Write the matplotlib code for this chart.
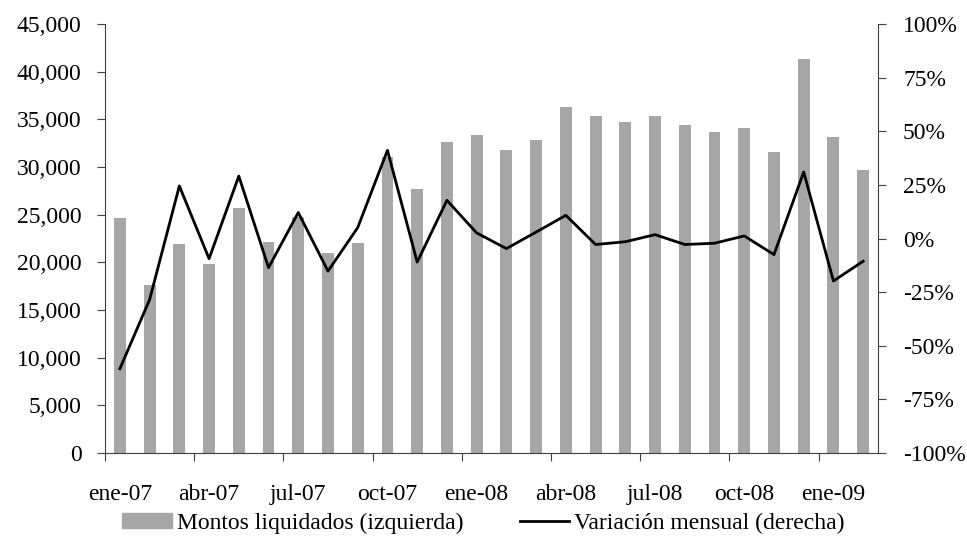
import matplotlib.pyplot as plt
from matplotlib.lines import Line2D
import matplotlib.patches as mpatches

plt.rcParams['font.family'] = ['Liberation Serif', 'DejaVu Serif']

# monthly data, ene-07 .. feb-09
meses = ['ene-07', 'feb-07', 'mar-07', 'abr-07', 'may-07', 'jun-07', 'jul-07', 'ago-07',
         'sep-07', 'oct-07', 'nov-07', 'dic-07', 'ene-08', 'feb-08', 'mar-08', 'abr-08',
         'may-08', 'jun-08', 'jul-08', 'ago-08', 'sep-08', 'oct-08', 'nov-08', 'dic-08',
         'ene-09', 'feb-09']
montos = [24700, 17600, 21900, 19850, 25650, 22100, 24750, 21000, 22000, 31100,
          27650, 32600, 33350, 31800, 32800, 36300, 35300, 34700, 35400, 34400,
          33650, 34100, 31550, 41350, 33100, 29650]
variacion = [-60.7, -28.5, 24.5, -9.4, 29.1, -13.6, 12.1, -15.2, 5.1, 41.1,
             -11.0, 17.8, 2.6, -4.7, 3.0, 10.8, -2.8, -1.5, 1.8, -2.8,
             -2.2, 1.2, -7.5, 31.0, -19.8, -10.6]
left_ticks = [0, 5000, 10000, 15000, 20000, 25000, 30000, 35000, 40000, 45000]
right_ticks = [-100, -75, -50, -25, 0, 25, 50, 75, 100]

fs = 17
fig = plt.figure(figsize=(9.67, 5.37), dpi=100)
ax = fig.add_axes([0.1086, 0.1564, 0.7994, 0.7989])
x = list(range(len(meses)))
ax.bar(x, montos, width=0.4, color='#a6a6a6')
ax.set_xlim(-0.5, len(meses) - 0.5)
ax.set_ylim(0, 45000)
ax.set_yticks(left_ticks)
ax.set_yticklabels(['{:,}'.format(v) for v in left_ticks])

# group ticks every 3 months, labels on the first month of each group
ax.set_xticks([i - 0.5 for i in range(0, len(meses) + 1, 3)])
ax.set_xticklabels([])
ax.set_xticks(x[::3], minor=True)
ax.set_xticklabels(meses[::3], minor=True)
ax.tick_params(axis='x', which='minor', length=0, pad=22, labelsize=fs)
ax.tick_params(axis='x', which='major', length=6, color='#404040')
ax.tick_params(axis='y', length=6, pad=11, labelsize=fs, color='#404040')
ax.spines['top'].set_visible(False)
ax.spines['right'].set_visible(False)
ax.spines['left'].set_color('#404040')
ax.spines['bottom'].set_color('#404040')

ax2 = ax.twinx()
ax2.plot(x, variacion, color='black', linewidth=2)
ax2.set_ylim(-100, 100)
ax2.set_yticks(right_ticks)
ax2.set_yticklabels(['{}%'.format(v) for v in right_ticks])
ax2.tick_params(axis='y', length=6, pad=12, labelsize=fs, color='#404040')
ax2.spines['top'].set_visible(False)
ax2.spines['left'].set_visible(False)
ax2.spines['bottom'].set_visible(False)
ax2.spines['right'].set_color('#404040')

h1 = mpatches.Patch(color='#a6a6a6', label='Montos liquidados (izquierda)')
h2 = Line2D([], [], color='black', linewidth=2, label='Variación mensual (derecha)')
fig.legend(handles=[h1, h2], loc='center', bbox_to_anchor=(0.5, 14 / 537), ncol=2,
           frameon=False, fontsize=fs, handlelength=2.1, handleheight=0.6,
           handletextpad=0.2, columnspacing=2.4, borderpad=0, borderaxespad=0)

plt.savefig('out.png', dpi=100)
